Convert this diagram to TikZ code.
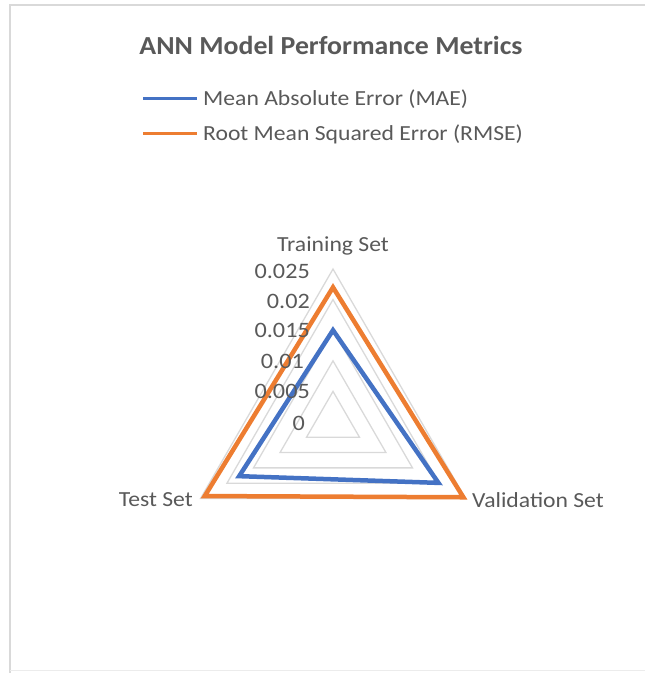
\documentclass[tikz,border=0pt]{standalone}
\usepackage{fontspec}
\setmainfont{Carlito}
\newfontfamily\titlefont[FakeStretch=1.07]{Carlito}
\newfontfamily\chartfont[FakeStretch=1.1]{Carlito}
\usetikzlibrary{calc}
\definecolor{txtgray}{HTML}{595959}
\definecolor{gridgray}{HTML}{D9D9D9}
\definecolor{framegray}{HTML}{D9D9D9}
\definecolor{maeblue}{HTML}{4472C4}
\definecolor{rmseorange}{HTML}{ED7D31}
\tikzset{
  gridline/.style={draw=gridgray, line width=1.3pt, line join=miter},
  series/.style={line width=4.5pt, line join=miter},
  legline/.style={line width=3pt},
  chartlabel/.style={text=txtgray, font=\chartfont\fontsize{21.5}{23}\selectfont, inner sep=0pt},
  ticklabel/.style={text=txtgray, font=\chartfont\fontsize{22}{23}\selectfont, inner sep=0pt, anchor=east},
}
\begin{document}
\begin{tikzpicture}[x=1pt,y=1pt]
\useasboundingbox (0,0) rectangle (645,673);
% frame
\draw[framegray, line width=2pt] (10,0) -- (10,668) -- (645,668);
\draw[gridgray!50, line width=1pt] (10,2) -- (645,2);
% title
\node[text=txtgray, font=\titlefont\bfseries\fontsize{26}{28}\selectfont, inner sep=0pt] (title) at (331,628) {ANN Model Performance Metrics};
% legend
\coordinate (l1a) at (143,574); \coordinate (l1b) at (197,574);
\coordinate (l2a) at (143,539); \coordinate (l2b) at (197,539);
\draw[legline, maeblue] (l1a) -- (l1b);
\draw[legline, rmseorange] (l2a) -- (l2b);
\node[chartlabel, anchor=west] (leg1) at (203,574) {Mean Absolute Error (MAE)};
\node[chartlabel, anchor=west] (leg2) at (203,539) {Root Mean Squared Error (RMSE)};
% radar
\coordinate (O) at (333,251);
\foreach \v in {0.005,0.01,0.015,0.02,0.025}{
  \draw[gridline] ($(O)+(90:{\v*6120})$) -- ($(O)+(210:{\v*6120})$) -- ($(O)+(330:{\v*6120})$) -- cycle;
}
% series
\draw[series, rmseorange] ($(O)+(90:{0.022*6120})$) -- ($(O)+(210:{0.0242*6120})$) -- ($(O)+(330:{0.0246*6120})$) -- cycle;
\draw[series, maeblue] ($(O)+(90:{0.015*6120})$) -- ($(O)+(210:{0.0177*6120})$) -- ($(O)+(330:{0.0199*6120})$) -- cycle;
% tick labels
\node[ticklabel] (t25) at (310,402) {0.025};
\node[ticklabel] (t20) at (310,372) {0.02};
\node[ticklabel] (t15) at (310,343) {0.015};
\node[ticklabel] (t10) at (304,312) {0.01};
\node[ticklabel] (t05) at (310,282) {0.005};
\node[ticklabel] (t00) at (305,250) {0};
% axis labels
\node[chartlabel] (train) at (333,427) {Training Set};
\node[chartlabel, anchor=east] (test) at (193,173) {Test Set};
\node[chartlabel, anchor=west] (valid) at (472,173) {Validation Set};
\end{tikzpicture}
\end{document}
